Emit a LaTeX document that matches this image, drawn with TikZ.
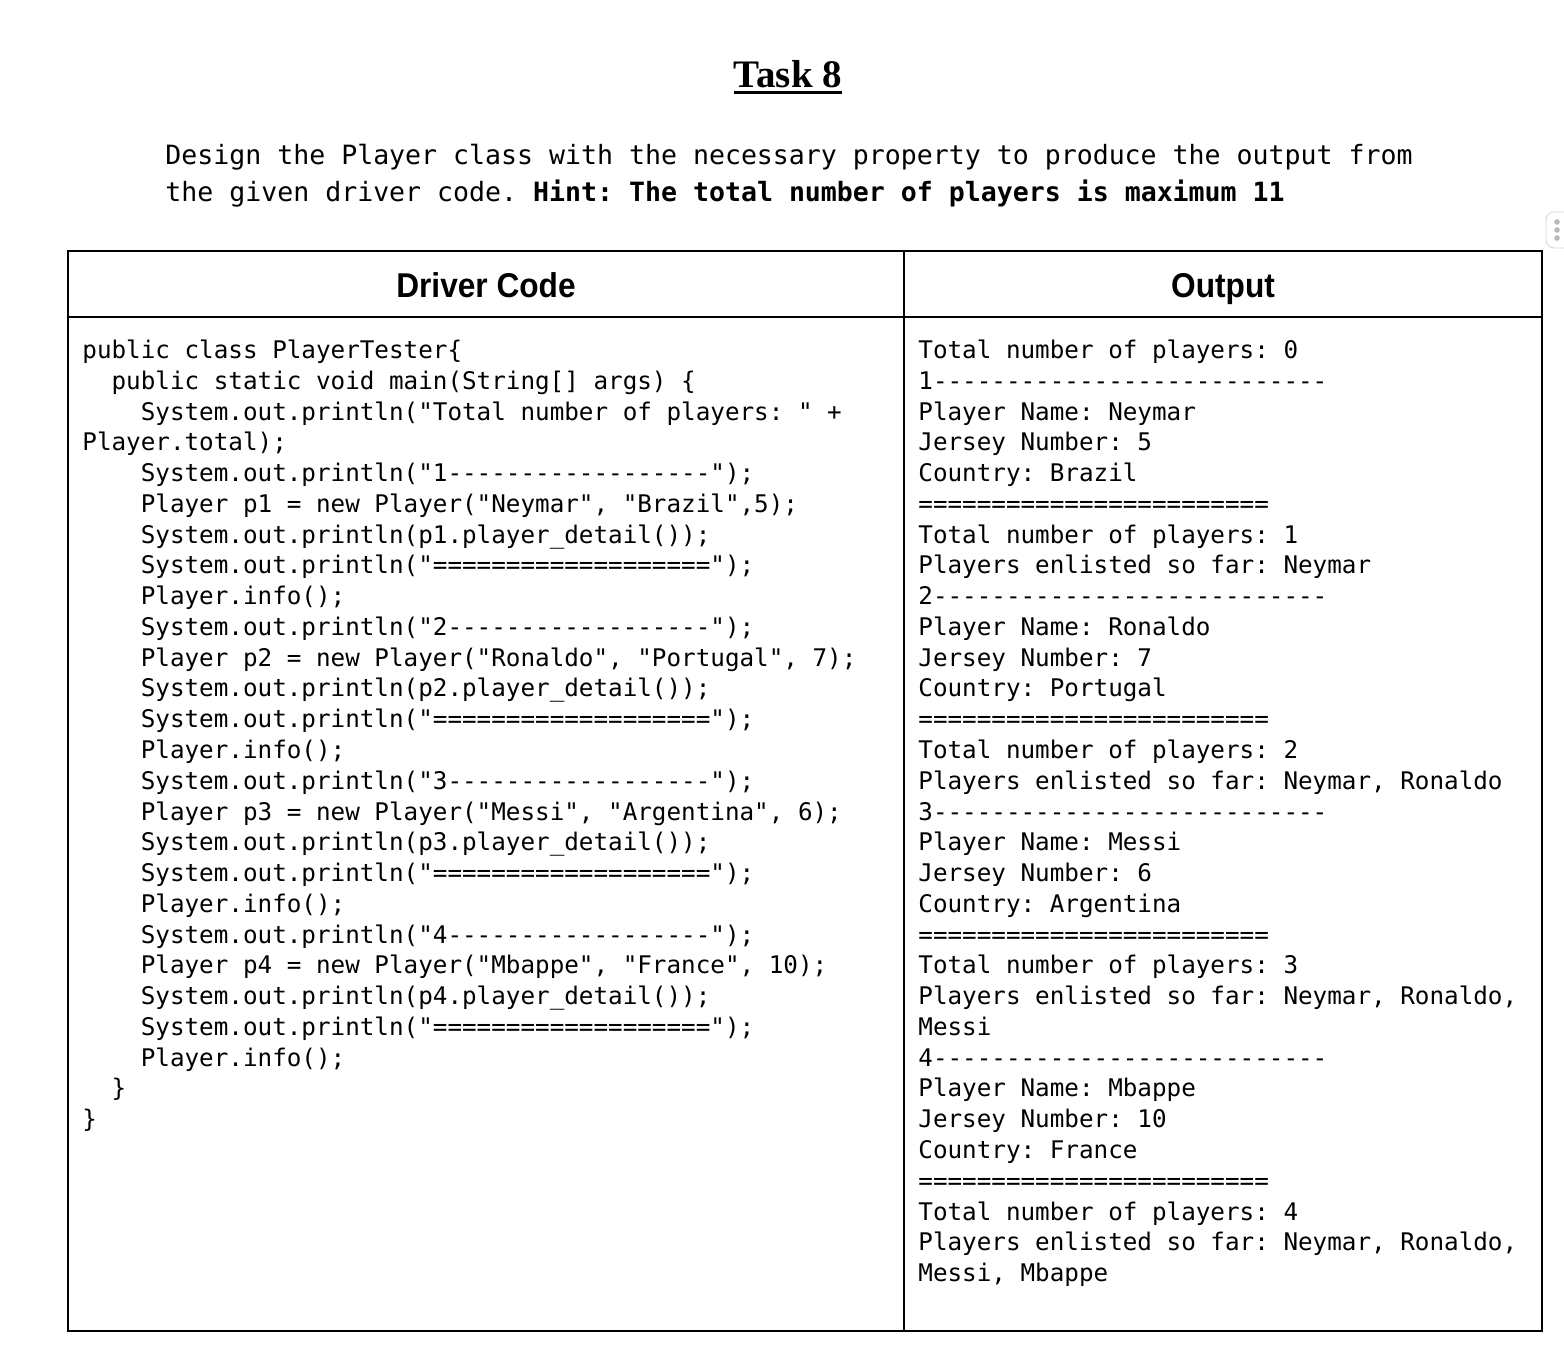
\documentclass[tikz,border=0pt]{standalone}
\usepackage{fontspec}
\setmainfont{Liberation Serif}
\newfontfamily\codefont{DejaVu Sans Mono}
\newfontfamily\headfont[FakeStretch=0.92]{Liberation Sans}
\newcommand\indA{\hphantom{xx}}
\newcommand\indB{\hphantom{xxxx}}
\tikzset{
  codeline/.style={anchor=base west, inner sep=0pt, font=\codefont\fontsize{12.13}{14}\selectfont},
  hintline/.style={anchor=base west, inner sep=0pt, font=\codefont\fontsize{13.28}{16}\selectfont},
  header/.style={anchor=base, inner sep=0pt, font=\headfont\bfseries\fontsize{17.2}{20}\selectfont},
  frame/.style={line width=1pt}
}
\begin{document}
\frenchspacing
\begin{tikzpicture}[x=0.5pt,y=-0.5pt]
\useasboundingbox (0,0) rectangle (1564,1356);

% Title
\node[anchor=base, inner sep=0pt, font=\bfseries\fontsize{19.5}{22}\selectfont] (title) at (788,87) {Task 8};
\draw[line width=1.5pt] ([yshift=-2.5pt]title.base west) -- ([yshift=-2.5pt]title.base east);

% Task text
\node[hintline] (hint1) at (165,164) {Design the Player class with the necessary property to produce the output from};
\node[hintline] (hint2) at (165,201) {the given driver code. \textbf{Hint: The total number of players is maximum 11}};

% Side handle
\draw[gray!35, rounded corners=4pt] (1546,212) rectangle (1584,248);
\foreach \d in {222,230,238}
  \fill[gray!55] (1557,\d) circle (1.4pt);

% Table
\draw[frame] (68,251) rectangle (1542,1331);
\draw[frame] (68,317) -- (1542,317);
\draw[frame] (904,251) -- (904,1331);
\node[header] (drv) at (486,297) {Driver Code};
\node[header] (out) at (1223,297) {Output};

% Driver code
\foreach \t [count=\i from 0] in {
  {public class PlayerTester\{},
  {\indA public static void main(String[] args) \{},
  {\indB System.out.println("Total number of players: " +},
  {Player.total);},
  {\indB System.out.println("1------------------");},
  {\indB Player p1 = new Player("Neymar", "Brazil",5);},
  {\indB System.out.println(p1.player\_detail());},
  {\indB System.out.println("===================");},
  {\indB Player.info();},
  {\indB System.out.println("2------------------");},
  {\indB Player p2 = new Player("Ronaldo", "Portugal", 7);},
  {\indB System.out.println(p2.player\_detail());},
  {\indB System.out.println("===================");},
  {\indB Player.info();},
  {\indB System.out.println("3------------------");},
  {\indB Player p3 = new Player("Messi", "Argentina", 6);},
  {\indB System.out.println(p3.player\_detail());},
  {\indB System.out.println("===================");},
  {\indB Player.info();},
  {\indB System.out.println("4------------------");},
  {\indB Player p4 = new Player("Mbappe", "France", 10);},
  {\indB System.out.println(p4.player\_detail());},
  {\indB System.out.println("===================");},
  {\indB Player.info();},
  {\indA \}},
  {\}}}
  \node[codeline] (code\i) at (82,358.5+30.77*\i) {\t};

% Output
\foreach \t [count=\i from 0] in {
  {Total number of players: 0},
  {1---------------------------},
  {Player Name: Neymar},
  {Jersey Number: 5},
  {Country: Brazil},
  {========================},
  {Total number of players: 1},
  {Players enlisted so far: Neymar},
  {2---------------------------},
  {Player Name: Ronaldo},
  {Jersey Number: 7},
  {Country: Portugal},
  {========================},
  {Total number of players: 2},
  {Players enlisted so far: Neymar, Ronaldo},
  {3---------------------------},
  {Player Name: Messi},
  {Jersey Number: 6},
  {Country: Argentina},
  {========================},
  {Total number of players: 3},
  {Players enlisted so far: Neymar, Ronaldo,},
  {Messi},
  {4---------------------------},
  {Player Name: Mbappe},
  {Jersey Number: 10},
  {Country: France},
  {========================},
  {Total number of players: 4},
  {Players enlisted so far: Neymar, Ronaldo,},
  {Messi, Mbappe}}
  \node[codeline] (out\i) at (918,358.5+30.77*\i) {\t};
\end{tikzpicture}
\end{document}
